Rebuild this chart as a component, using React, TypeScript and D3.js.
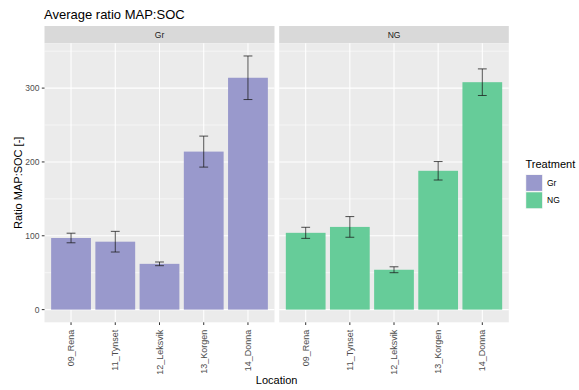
import React from "react";
import * as d3 from "d3";

const locations = ["09_Rena", "11_Tynset", "12_Leksvik", "13_Korgen", "14_Donna"];
const treatments = ["Gr", "NG"];
const grMean = [97, 92, 62, 214, 314];
const grErr = [6.5, 14, 2.5, 21, 29.5];
const ngMean = [104, 112, 54, 188, 308];
const ngErr = [7.5, 14, 4, 12.5, 18];
const yTicks = [0, 100, 200, 300];
const yMinor = [50, 150, 250, 350];
const colors = ["#9999CC", "#66CC99"];

const W = 579;
const H = 390;
const FONT = "'Liberation Sans', Arial, sans-serif";

export default function App() {
  const series = [
    { name: treatments[0], mean: grMean, err: grErr, color: colors[0] },
    { name: treatments[1], mean: ngMean, err: ngErr, color: colors[1] },
  ];
  const maxTop = d3.max(series.flatMap((s) => s.mean.map((m, i) => m + s.err[i]))) as number;
  const pad = maxTop * 0.05;
  const panelTop = 43.3;
  const panelBottom = 322.3;
  const stripTop = 26;
  const y = d3.scaleLinear().domain([-pad, maxTop + pad]).range([panelBottom, panelTop]);
  const panels = [
    { x0: 44.5, x1: 274.5 },
    { x0: 279.2, x1: 508.8 },
  ];

  return (
    <svg width={W} height={H} style={{ position: "absolute", left: 0, top: 0, background: "#fff" }} fontFamily={FONT}>
      <rect width={W} height={H} fill="#fff" />
      <text x={44} y={18.5} fontSize={13} fill="#000">Average ratio MAP:SOC</text>
      {series.map((s, pi) => {
        const p = panels[pi];
        const x = d3.scalePoint<string>().domain(locations).range([p.x0, p.x1]).padding(0.6);
        const step = x.step();
        const bw = step * 0.9;
        const ew = step * 0.2;
        return (
          <g key={s.name}>
            <rect x={p.x0} y={stripTop} width={p.x1 - p.x0} height={panelTop - stripTop} fill="#D9D9D9" />
            <text x={(p.x0 + p.x1) / 2} y={(stripTop + panelTop) / 2} dy="0.35em" textAnchor="middle" fontSize={8.5} fill="#1A1A1A">{s.name}</text>
            <rect x={p.x0} y={panelTop} width={p.x1 - p.x0} height={panelBottom - panelTop} fill="#EBEBEB" />
            {yMinor.filter((v) => y(v) > panelTop).map((v) => (
              <line key={"mn" + v} x1={p.x0} x2={p.x1} y1={y(v)} y2={y(v)} stroke="#fff" strokeWidth={0.55} />
            ))}
            {yTicks.map((v) => (
              <line key={"mj" + v} x1={p.x0} x2={p.x1} y1={y(v)} y2={y(v)} stroke="#fff" strokeWidth={1.07} />
            ))}
            {locations.map((l) => (
              <line key={"xg" + l} x1={x(l)} x2={x(l)} y1={panelTop} y2={panelBottom} stroke="#fff" strokeWidth={1.07} />
            ))}
            {locations.map((l, i) => (
              <rect key={"b" + l} x={(x(l) as number) - bw / 2} y={y(s.mean[i])} width={bw} height={y(0) - y(s.mean[i])} fill={s.color} />
            ))}
            {locations.map((l, i) => {
              const cx = x(l) as number;
              const t = y(s.mean[i] + s.err[i]);
              const b = y(s.mean[i] - s.err[i]);
              return (
                <g key={"e" + l} stroke="#1a1a1a" strokeWidth={0.9} strokeOpacity={0.85}>
                  <line x1={cx} x2={cx} y1={t} y2={b} />
                  <line x1={cx - ew / 2} x2={cx + ew / 2} y1={t} y2={t} />
                  <line x1={cx - ew / 2} x2={cx + ew / 2} y1={b} y2={b} />
                </g>
              );
            })}
            {locations.map((l) => (
              <g key={"xt" + l}>
                <line x1={x(l)} x2={x(l)} y1={panelBottom} y2={panelBottom + 2.7} stroke="#333" strokeWidth={1} />
                <text transform={`translate(${x(l)},${panelBottom + 7.5}) rotate(-90)`} dy="0.35em" textAnchor="end" fontSize={9} fill="#4D4D4D">{l}</text>
              </g>
            ))}
          </g>
        );
      })}
      {yTicks.map((v) => (
        <g key={"yt" + v}>
          <line x1={panels[0].x0 - 2.7} x2={panels[0].x0} y1={y(v)} y2={y(v)} stroke="#333" strokeWidth={1} />
          <text x={panels[0].x0 - 5} y={y(v)} dy="0.35em" textAnchor="end" fontSize={8.5} fill="#4D4D4D">{v}</text>
        </g>
      ))}
      <text x={(panels[0].x0 + panels[1].x1) / 2} y={384} textAnchor="middle" fontSize={11} fill="#000">Location</text>
      <text transform={`translate(22,${(panelTop + panelBottom) / 2}) rotate(-90)`} textAnchor="middle" fontSize={11} fill="#000">Ratio MAP:SOC [-]</text>
      <text x={525.5} y={168.3} fontSize={11} fill="#000">Treatment</text>
      {series.map((s, i) => (
        <g key={"lg" + s.name}>
          <rect x={525.5} y={174.3 + i * 17.3} width={17.3} height={17.3} fill="#F2F2F2" />
          <rect x={526.2} y={175 + i * 17.3} width={15.9} height={15.9} fill={s.color} />
          <text x={547} y={174.3 + i * 17.3 + 8.65} dy="0.35em" fontSize={8.5} fill="#000">{s.name}</text>
        </g>
      ))}
    </svg>
  );
}
